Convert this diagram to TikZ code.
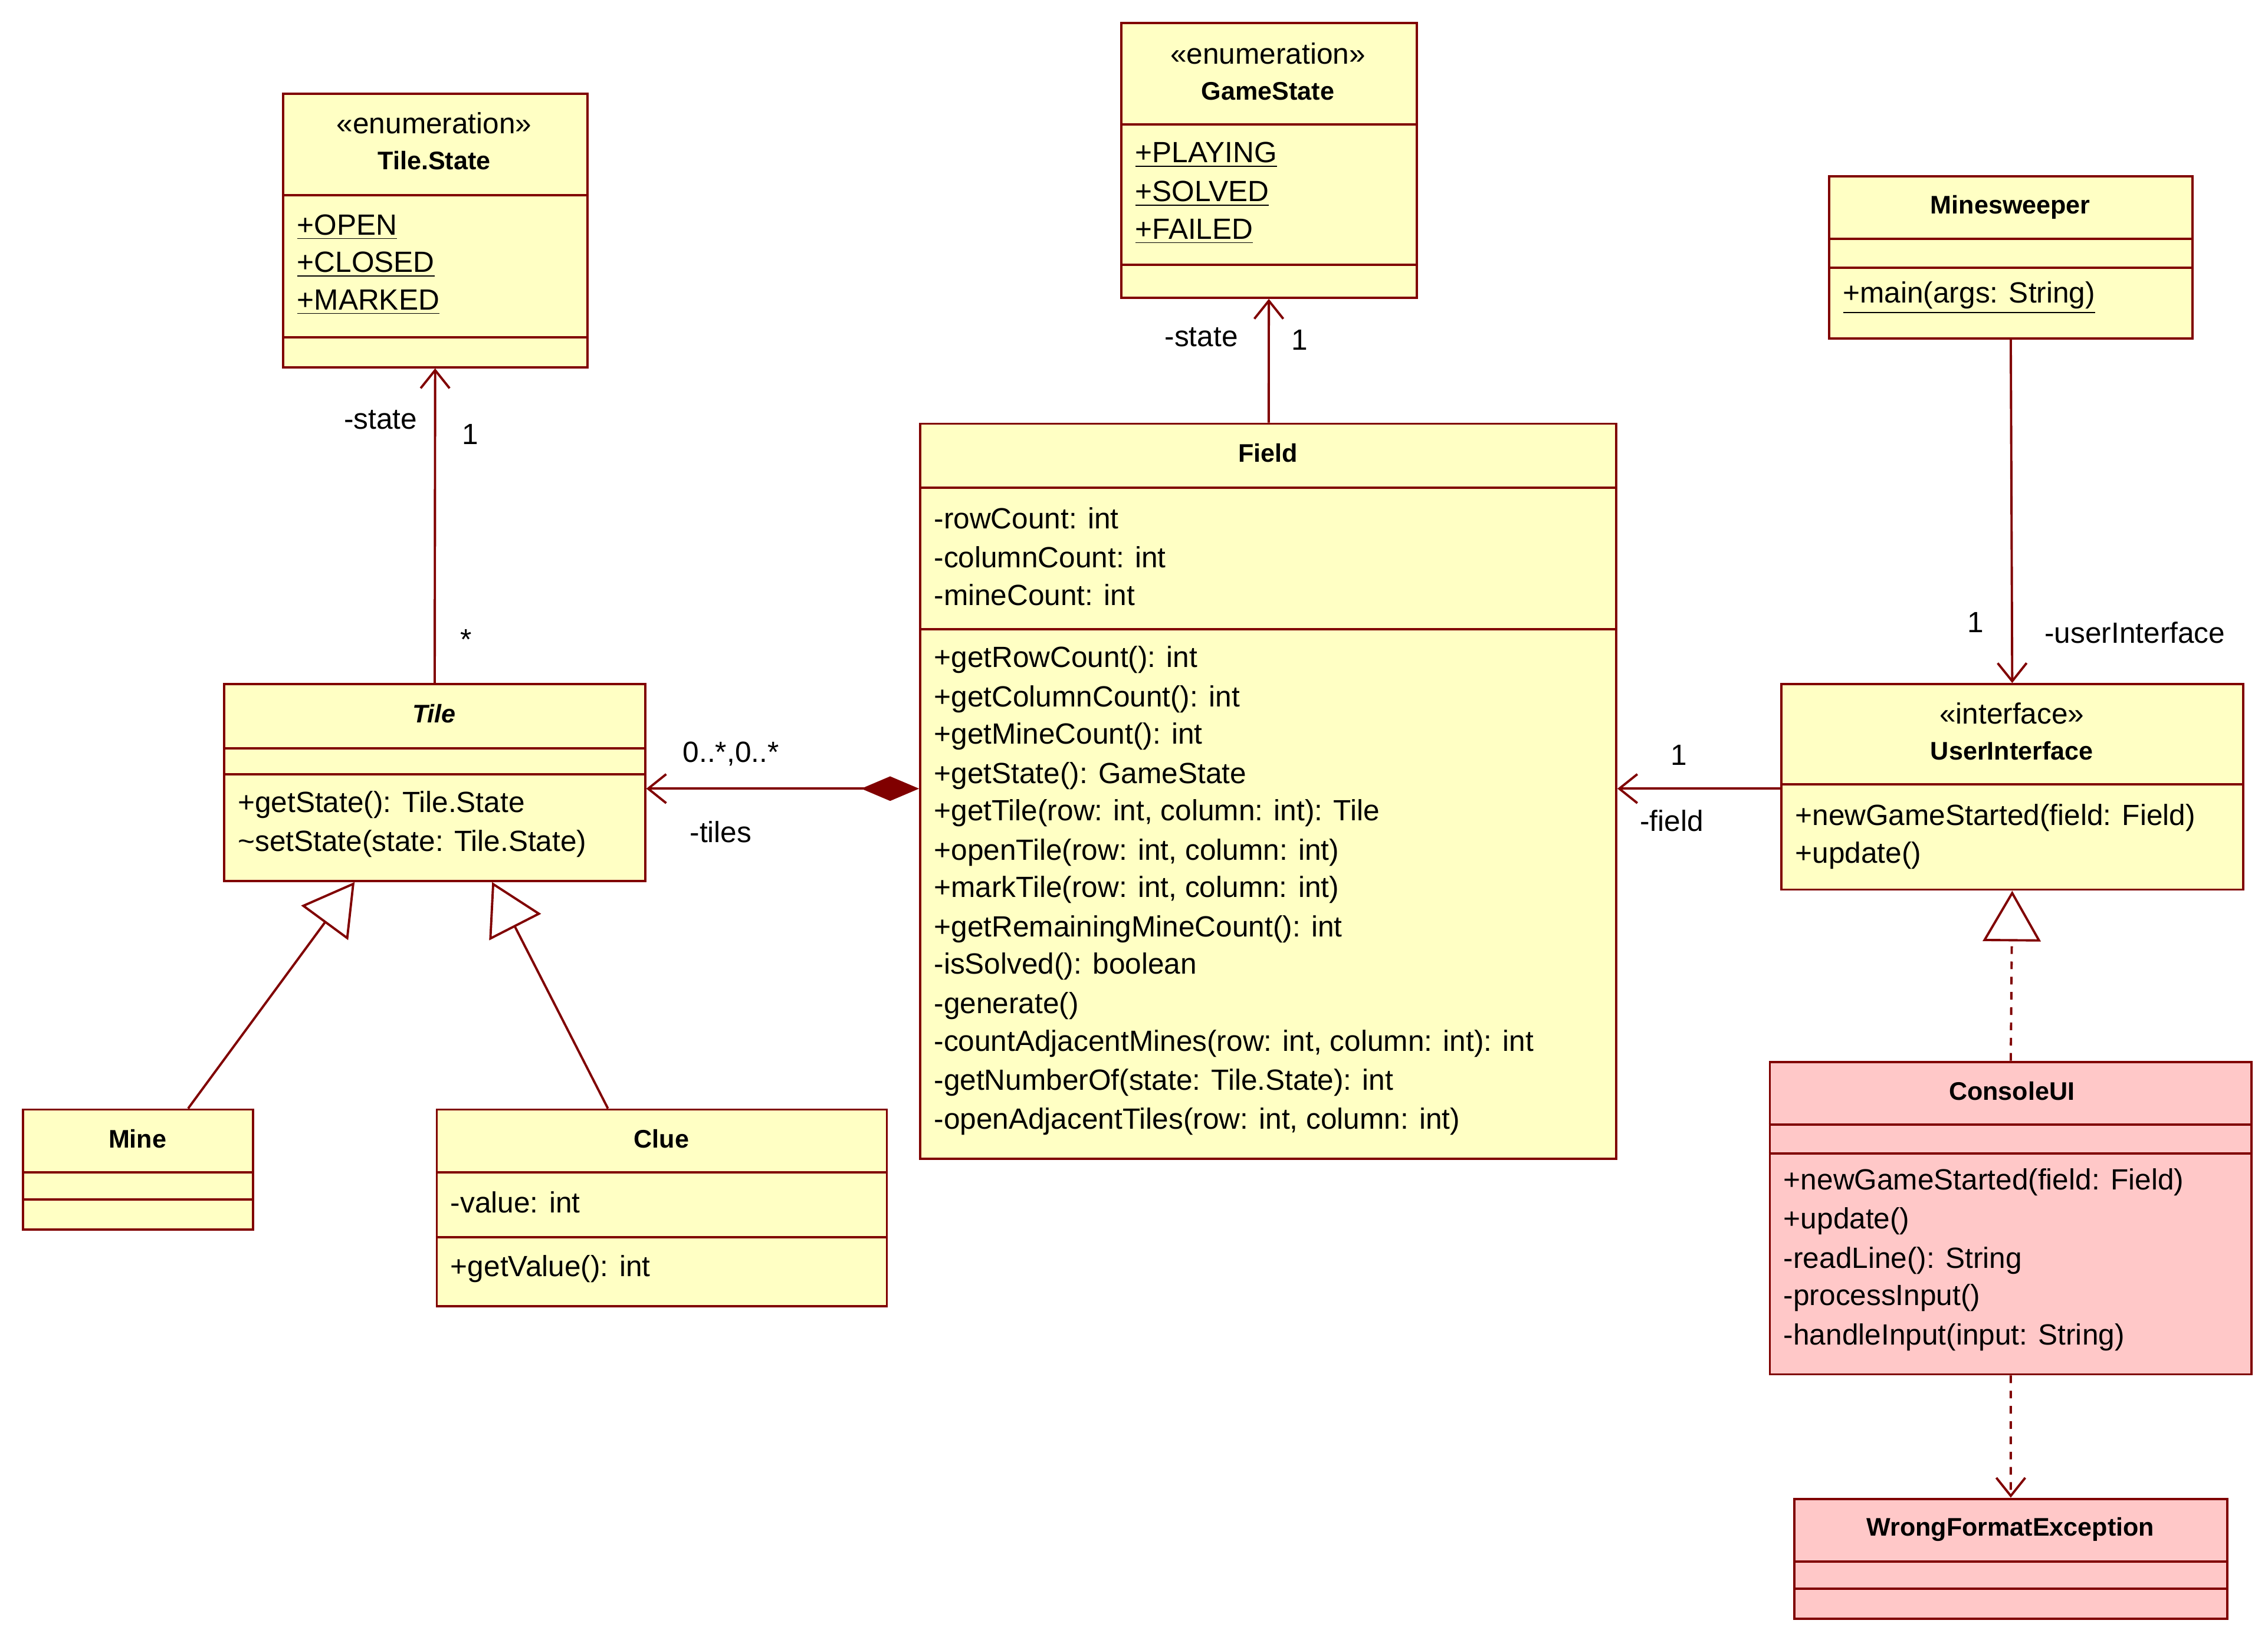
\documentclass[tikz,border=0pt]{standalone}
\usepackage{fontspec}
\setmainfont{Liberation Sans}
\usetikzlibrary{arrows.meta}
\definecolor{umlline}{HTML}{800000}
\definecolor{umlfill}{HTML}{FFFFC4}
\definecolor{umlpink}{HTML}{FFC8C8}

\tikzset{
  cls/.style={draw=umlline, fill=umlfill, line width=0.9pt, anchor=north west, inner sep=0pt},
  exc/.style={cls, fill=umlpink},
  txt/.style={anchor=west, inner sep=0pt},
  ttl/.style={inner sep=0pt, font=\bfseries},
  lbl/.style={inner sep=0pt},
  sep/.style={draw=umlline, line width=0.9pt},
  assoc/.style={draw=umlline, line width=0.9pt, -{Straight Barb[length=0.25cm,width=0.4cm]}},
  comp/.style={draw=umlline, line width=0.9pt, {Diamond[length=0.8cm,width=0.34cm]}-{Straight Barb[length=0.25cm,width=0.4cm]}},
  inherit/.style={draw=umlline, line width=0.9pt, -{Triangle[open,length=0.7cm,width=0.8cm,fill=white]}},
  realize/.style={inherit, dashed},
  depend/.style={assoc, dashed}
}

\begin{document}
\begin{tikzpicture}[x=0.02cm, y=-0.02cm, font=\fontsize{11.5}{14}\selectfont, text=black]
  \useasboundingbox (0,0) rectangle (1567,1133);

  % boxes
  \node[cls, minimum width=4.2cm, minimum height=3.78cm] (tilestate) at (195,64) {};
  \node[cls, minimum width=4.08cm, minimum height=3.8cm] (gamestate) at (774,15) {};
  \node[cls, minimum width=5.02cm, minimum height=2.24cm] (minesweeper) at (1263,121) {};
  \node[cls, minimum width=9.62cm, minimum height=10.16cm] (field) at (635,292) {};
  \node[cls, minimum width=5.82cm, minimum height=2.72cm] (tile) at (154,472) {};
  \node[cls, minimum width=3.18cm, minimum height=1.66cm] (mine) at (15,766) {};
  \node[cls, minimum width=6.22cm, minimum height=2.72cm] (clue) at (301,766) {};
  \node[cls, minimum width=6.38cm, minimum height=2.84cm] (ui) at (1230,472) {};
  \node[exc, minimum width=6.66cm, minimum height=4.32cm] (console) at (1222,733) {};
  \node[exc, minimum width=5.98cm, minimum height=1.66cm] (wfe) at (1239,1035) {};

  % compartments
  \draw[sep] (195,135) -- (405,135) (195,233) -- (405,233);
  \draw[sep] (774,86) -- (978,86) (774,183) -- (978,183);
  \draw[sep] (1263,165) -- (1514,165) (1263,185) -- (1514,185);
  \draw[sep] (635,337) -- (1116,337) (635,435) -- (1116,435);
  \draw[sep] (154,517) -- (445,517) (154,535) -- (445,535);
  \draw[sep] (15,810) -- (174,810) (15,829) -- (174,829);
  \draw[sep] (301,810) -- (612,810) (301,855) -- (612,855);
  \draw[sep] (1230,542) -- (1549,542);
  \draw[sep] (1222,777) -- (1555,777) (1222,797) -- (1555,797);
  \draw[sep] (1239,1079) -- (1538,1079) (1239,1098) -- (1538,1098);

  % Tile.State
  \node[lbl] (tsst) at (300,85) {<<enumeration>>};
  \node[ttl] (tsname) at (300,111) {Tile.State};
  \node[txt] (tsopen) at (205,157) {\underline{+OPEN}};
  \node[txt] (tsclosed) at (205,183) {\underline{+CLOSED}};
  \node[txt] (tsmarked) at (205,209) {\underline{+MARKED}};

  % GameState
  \node[lbl] (gsst) at (876,37) {<<enumeration>>};
  \node[ttl] (gsname) at (876,63) {GameState};
  \node[txt] (gsplay) at (784,107) {\underline{+PLAYING}};
  \node[txt] (gssolved) at (784,134) {\underline{+SOLVED}};
  \node[txt] (gsfailed) at (784,160) {\underline{+FAILED}};

  % Minesweeper
  \node[ttl] (msname) at (1389,143) {Minesweeper};
  \node[txt] (msmain) at (1273,206) {\underline{+main(args: String)}};

  % Field
  \node[ttl] (fname) at (876,313) {Field};
  \node[txt] (fa1) at (645,358) {-rowCount: int};
  \node[txt] (fa2) at (645,385) {-columnCount: int};
  \node[txt] (fa3) at (645,411) {-mineCount: int};
  \node[txt] (fm1) at (645,456) {+getRowCount(): int};
  \node[txt] (fm2) at (645,483) {+getColumnCount(): int};
  \node[txt] (fm3) at (645,509) {+getMineCount(): int};
  \node[txt] (fm4) at (645,536) {+getState(): GameState};
  \node[txt] (fm5) at (645,562) {+getTile(row: int, column: int): Tile};
  \node[txt] (fm6) at (645,589) {+openTile(row: int, column: int)};
  \node[txt] (fm7) at (645,615) {+markTile(row: int, column: int)};
  \node[txt] (fm8) at (645,642) {+getRemainingMineCount(): int};
  \node[txt] (fm9) at (645,668) {-isSolved(): boolean};
  \node[txt] (fm10) at (645,695) {-generate()};
  \node[txt] (fm11) at (645,721) {-countAdjacentMines(row: int, column: int): int};
  \node[txt] (fm12) at (645,748) {-getNumberOf(state: Tile.State): int};
  \node[txt] (fm13) at (645,775) {-openAdjacentTiles(row: int, column: int)};

  % Tile, Mine, Clue
  \node[ttl, font=\bfseries\itshape] (tname) at (300,493) {Tile};
  \node[txt] (tm1) at (164,556) {+getState(): Tile.State};
  \node[txt] (tm2) at (164,583) {\textasciitilde setState(state: Tile.State)};
  \node[ttl] (mname) at (95,787) {Mine};
  \node[ttl] (cname) at (457,787) {Clue};
  \node[txt] (ca1) at (311,831) {-value: int};
  \node[txt] (cm1) at (311,877) {+getValue(): int};

  % UserInterface, ConsoleUI, WrongFormatException
  \node[lbl] (uist) at (1390,493) {<<interface>>};
  \node[ttl] (uiname) at (1390,519) {UserInterface};
  \node[txt] (uim1) at (1240,565) {+newGameStarted(field: Field)};
  \node[txt] (uim2) at (1240,591) {+update()};
  \node[ttl] (cuname) at (1390,754) {ConsoleUI};
  \node[txt] (cum1) at (1232,817) {+newGameStarted(field: Field)};
  \node[txt] (cum2) at (1232,844) {+update()};
  \node[txt] (cum3) at (1232,871) {-readLine(): String};
  \node[txt] (cum4) at (1232,897) {-processInput()};
  \node[txt] (cum5) at (1232,924) {-handleInput(input: String)};
  \node[ttl] (wfename) at (1389,1057) {WrongFormatException};

  % connectors
  \draw[assoc] (tile) -- (tilestate);
  \draw[assoc] (field) -- (gamestate);
  \draw[assoc] (minesweeper.south) -- (ui.north);
  \draw[comp] (field.west |- 0,545) -- (tile.east |- 0,545);
  \draw[assoc] (ui.west |- 0,545) -- (field.east |- 0,545);
  \draw[inherit] (mine.north -| 130,0) -- (tile.south -| 245,0);
  \draw[inherit] (clue.north -| 420,0) -- (tile.south -| 340,0);
  \draw[realize] (console.north) -- (ui.south);
  \draw[depend] (console.south) -- (wfe.north);

  % end labels
  \node[lbl] (l1) at (263,290) {-state};
  \node[lbl] (l2) at (325,300) {1};
  \node[lbl] (l3) at (322,442) {*};
  \node[lbl] (l4) at (830,233) {-state};
  \node[lbl] (l5) at (898,235) {1};
  \node[lbl] (l6) at (1365,430) {1};
  \node[lbl] (l7) at (1475,437) {-userInterface};
  \node[lbl] (l8) at (505,521) {0..*,0..*};
  \node[lbl] (l9) at (498,575) {-tiles};
  \node[lbl] (l10) at (1160,522) {1};
  \node[lbl] (l11) at (1155,567) {-field};
\end{tikzpicture}
\end{document}
